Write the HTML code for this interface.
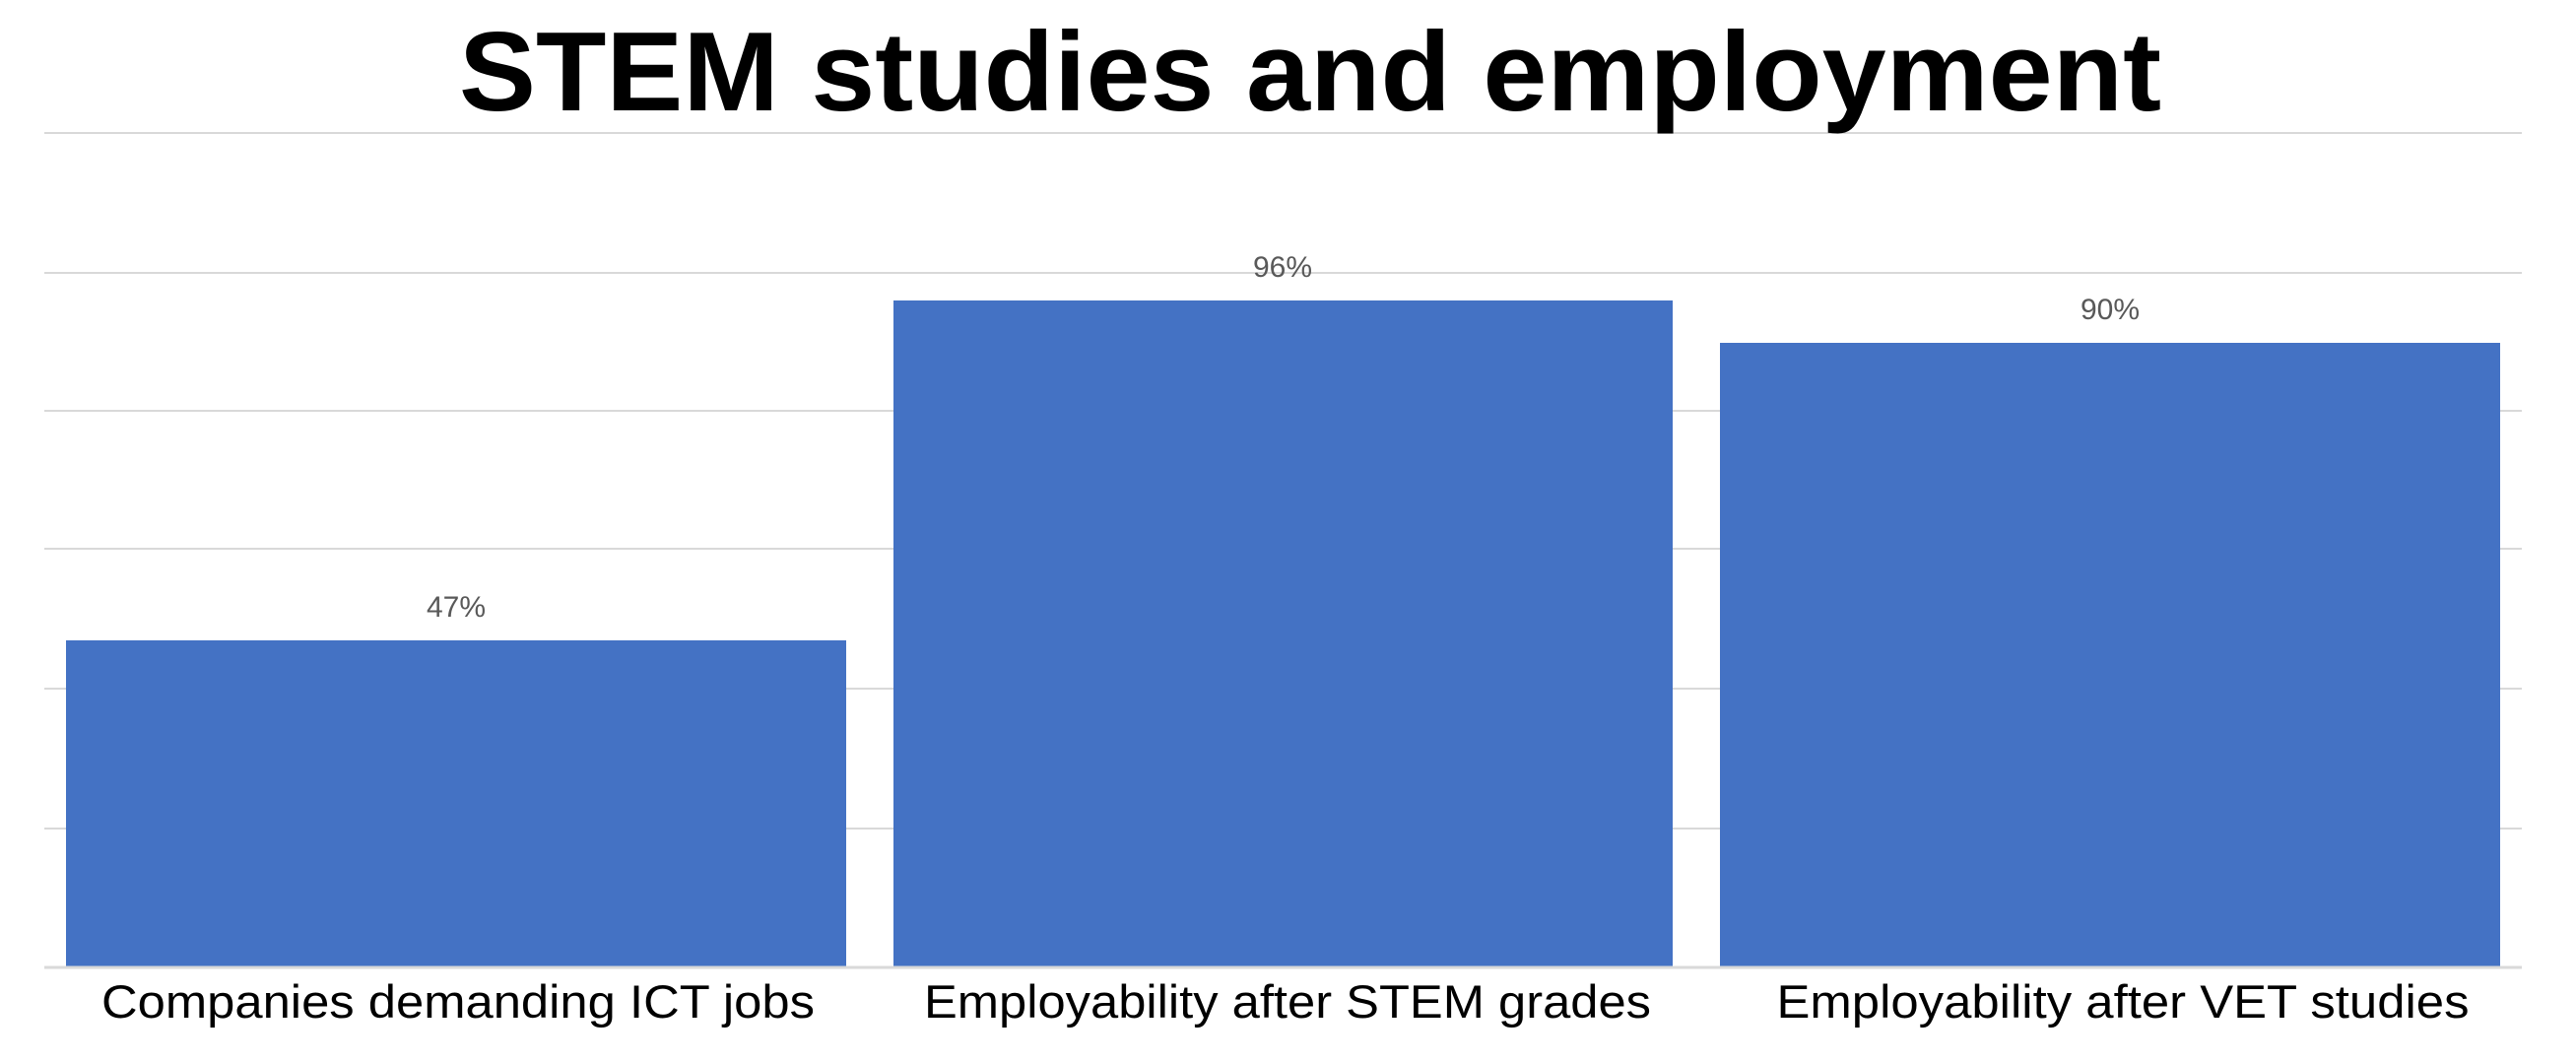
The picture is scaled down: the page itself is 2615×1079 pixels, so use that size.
<!DOCTYPE html>
<html><head><meta charset="utf-8"><style>html,body{margin:0;padding:0;background:#fff}svg{display:block}</style></head>
<body>
<svg width="2615" height="1079" viewBox="0 0 2615 1079" xmlns="http://www.w3.org/2000/svg" font-family="Liberation Sans, sans-serif">
<rect width="2615" height="1079" fill="#fff"/>
<g stroke="#d9d9d9" stroke-width="2">
<line x1="45" y1="135" x2="2560" y2="135"/>
<line x1="45" y1="277" x2="2560" y2="277"/>
<line x1="45" y1="417" x2="2560" y2="417"/>
<line x1="45" y1="557" x2="2560" y2="557"/>
<line x1="45" y1="699" x2="2560" y2="699"/>
<line x1="45" y1="841" x2="2560" y2="841"/>
</g>
<rect x="67" y="650" width="792" height="332" fill="#4472c4"/>
<rect x="907" y="305" width="791" height="677" fill="#4472c4"/>
<rect x="1746" y="348" width="792" height="634" fill="#4472c4"/>
<line x1="45" y1="982" x2="2560" y2="982" stroke="#d9d9d9" stroke-width="3"/>
<text x="1330" y="112" font-size="114" font-weight="bold" text-anchor="middle" textLength="1728" lengthAdjust="spacingAndGlyphs" fill="#000">STEM studies and employment</text>
<g font-size="30" fill="#595959" text-anchor="middle">
<text x="463" y="626">47%</text>
<text x="1302" y="281">96%</text>
<text x="2142" y="324">90%</text>
</g>
<g font-size="47" fill="#000" text-anchor="middle">
<text x="465" y="1033" textLength="724" lengthAdjust="spacingAndGlyphs">Companies demanding ICT jobs</text>
<text x="1307" y="1033" textLength="738" lengthAdjust="spacingAndGlyphs">Employability after STEM grades</text>
<text x="2155" y="1033" textLength="703" lengthAdjust="spacingAndGlyphs">Employability after VET studies</text>
</g>
</svg>
</body></html>
